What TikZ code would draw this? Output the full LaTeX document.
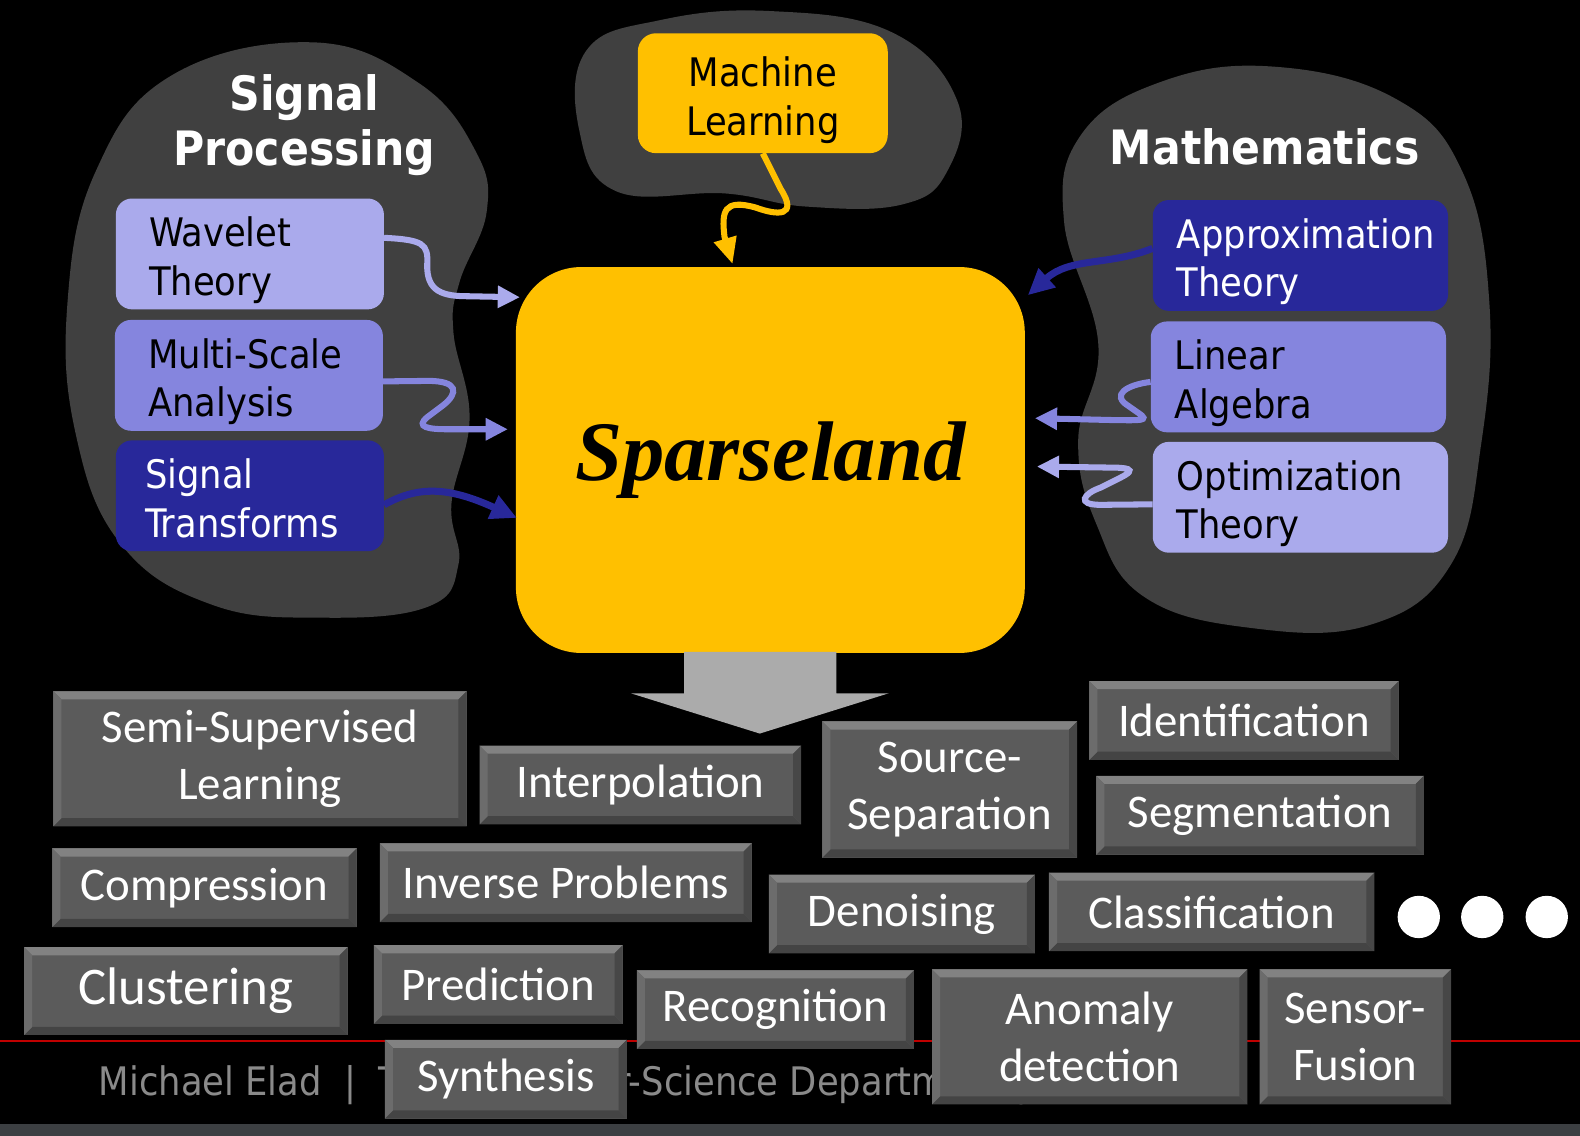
\documentclass[tikz,border=0pt]{standalone}
\usepackage{fontspec}
\usetikzlibrary{arrows.meta}
\newfontfamily\tahfont{DejaVu Sans Condensed}
\newfontfamily\calfont{Carlito}
\newfontfamily\sparsefont{Liberation Serif}
\definecolor{blob}{HTML}{404040}
\definecolor{yel}{HTML}{FFC000}
\definecolor{lavA}{HTML}{AAAAEC}
\definecolor{lavB}{HTML}{8585DE}
\definecolor{navy}{HTML}{28289A}
\definecolor{bvbase}{HTML}{5B5B5B}
\definecolor{bvtop}{HTML}{828282}
\definecolor{bvleft}{HTML}{6C6C6C}
\definecolor{bvright}{HTML}{474747}
\definecolor{bvbot}{HTML}{444444}
\definecolor{bigarrow}{HTML}{ABABAB}
\definecolor{footgray}{HTML}{8A8A8A}
\definecolor{band}{HTML}{3C3F42}
\definecolor{redline}{HTML}{C00000}
\tikzset{
  x=1pt, y=-1pt,
  topic/.style={rounded corners=16pt, inner xsep=0pt, inner ysep=0pt, align=left,
    text height=43pt, text depth=57pt,
    font=\tahfont\fontsize{39}{48}\selectfont},
  lefttopic/.style={topic, minimum width=266pt, minimum height=110pt, text width=200pt},
  righttopic/.style={topic, minimum width=293pt, minimum height=110pt, text width=245pt},
  header/.style={text=white, align=center, font=\tahfont\bfseries\fontsize{47}{55}\selectfont},
  arr/.style={line width=6pt, -{Triangle[length=22pt,width=21pt]}},
  bevel/.style={fill=bvbase, text=white, align=center, inner sep=0pt,
    font=\calfont\fontsize{46.5}{57}\selectfont,
    path picture={
      \coordinate (bnw) at (path picture bounding box.north west);
      \coordinate (bne) at (path picture bounding box.north east);
      \coordinate (bsw) at (path picture bounding box.south west);
      \coordinate (bse) at (path picture bounding box.south east);
      \fill[bvtop] (bnw) -- (bne) -- ([xshift=-8pt,yshift=-8pt]bne) -- ([xshift=8pt,yshift=-8pt]bnw) -- cycle;
      \fill[bvbot] (bsw) -- (bse) -- ([xshift=-8pt,yshift=8pt]bse) -- ([xshift=8pt,yshift=8pt]bsw) -- cycle;
      \fill[bvleft] (bnw) -- (bsw) -- ([xshift=8pt,yshift=8pt]bsw) -- ([xshift=8pt,yshift=-8pt]bnw) -- cycle;
      \fill[bvright] (bne) -- (bse) -- ([xshift=-8pt,yshift=8pt]bse) -- ([xshift=-8pt,yshift=-8pt]bne) -- cycle;
    }},
  dot/.style={circle, fill=white, minimum size=42pt, inner sep=0pt}
}
\begin{document}
\begin{tikzpicture}
\fill[black] (0,0) rectangle (1568,1127);
\useasboundingbox (0,0) rectangle (1568,1127);
\fill[band] (0,1115) rectangle (1568,1127);

% background clouds
\fill[blob] plot[smooth cycle, tension=0.7] coordinates {
  (310,42) (415,82) (472,150) (483,210) (456,280) (450,330) (466,415)
  (448,500) (455,560) (425,602) (320,613) (210,600) (120,540) (75,430)
  (67,300) (95,170) (170,75)};
\fill[blob] plot[smooth cycle, tension=0.7] coordinates {
  (765,11) (885,32) (950,100) (940,170) (895,203) (800,205) (720,192)
  (612,190) (575,130) (582,50) (655,20)};
\fill[blob] plot[smooth cycle, tension=0.7] coordinates {
  (1262,66) (1385,98) (1452,172) (1478,300) (1470,440) (1440,560)
  (1360,620) (1240,623) (1135,592) (1088,520) (1070,437) (1090,342)
  (1056,220) (1072,135) (1150,82)};

% headers
\node[header] (sphead) at (302,124) {Signal\\Processing};
\node[header] (mathead) at (1255,146) {Mathematics};

% central box
\node[fill=yel, rounded corners=65pt, minimum width=505pt, minimum height=383pt,
  font=\sparsefont\bfseries\itshape\fontsize{84}{90}\selectfont] (sp) at (764.5,456.5) {Sparseland};

% machine learning
\node[fill=yel, rounded corners=18pt, minimum width=248pt, minimum height=119pt, align=center,
  inner sep=0pt, text width=248pt, text height=43pt, text depth=56pt,
  font=\tahfont\fontsize{39}{48}\selectfont] (ml) at (757,92.5) {Machine\\Learning};

% left topics
\node[lefttopic, fill=lavA] (wav) at (248,252) {Wavelet\\Theory};
\node[lefttopic, fill=lavB] (msa) at (247,372.5) {Multi-Scale\\Analysis};
\node[lefttopic, fill=navy, text=white, text width=208pt] (sigt) at (248,492) {Signal\\Transforms};

% right topics
\node[righttopic, fill=navy, text=white] (apx) at (1290.5,253.5) {Approximation\\Theory};
\node[righttopic, fill=lavB] (lin) at (1288.5,374) {Linear\\Algebra};
\node[righttopic, fill=lavA] (opt) at (1290.5,493.5) {Optimization\\Theory};

% arrow tips on the central box
\coordinate (tw) at (516,295);
\coordinate (tm) at (504,426);
\coordinate (ts) at (513,514);
\coordinate (ta) at (1020,293);
\coordinate (tl) at (1027,415);
\coordinate (to) at (1029,463);
\coordinate (tml) at (727,262);

% connectors
\draw[arr, lavA] ([yshift=16pt]wav.east) .. controls (420,238) and (425,242) .. (424,262)
  .. controls (423,290) and (440,294) .. (465,294) -- (tw);
\draw[arr, lavB] ([yshift=-6pt]msa.east) -- (425,378) .. controls (455,378) and (455,390) .. (440,402)
  -- (424,414) .. controls (412,424) and (425,426) .. (445,426) -- (tm);
\draw[arr, navy, line width=7pt, -{Triangle[length=26pt,width=24pt]}] ([yshift=-9pt]sigt.east)
  .. controls (415,482) and (445,483) .. (ts);
\draw[arr, navy, line width=7pt, -{Triangle[length=26pt,width=24pt]}] ([yshift=7pt]apx.west)
  .. controls (1100,264) and (1062,255) .. (ta);
\draw[arr, lavB] ([yshift=-5pt]lin.west) .. controls (1118,382) and (1102,392) .. (1120,403)
  -- (1130,410) .. controls (1142,418) and (1130,417) .. (1110,417) -- (tl);
\draw[arr, lavA] ([yshift=-7pt]opt.west) -- (1092,501) .. controls (1068,501) and (1075,490) .. (1092,484)
  -- (1112,474) .. controls (1130,465) and (1118,464) .. (1100,464) -- (to);
\draw[yel, line width=6pt, -{Triangle[length=26pt,width=22pt]}] (ml.south) -- (775,188)
  .. controls (792,215) and (772,214) .. (750,206) .. controls (718,197) and (716,210) .. (719,235) -- (tml);

% big block arrow below the central box
\fill[bigarrow] (679,647) -- (830,647) -- (830,688) -- (882,688) -- (754,728) -- (626,688)
  -- (679,688) -- cycle;

% footer
\draw[redline, line width=2pt] (0,1033) -- (1568,1033);
\node[anchor=base west, inner sep=0pt, text=footgray, font=\tahfont\fontsize{39}{48}\selectfont]
  (foot) at (98,1087) {Michael Elad \ | \ The Computer-Science Department | \hspace{-41pt} The Technion};

% application boxes
\node[bevel, minimum width=410pt, minimum height=134pt] (ssl) at (258,753) {Semi-Supervised\\Learning};
\node[bevel, minimum width=319pt, minimum height=78pt] (interp) at (635.5,779) {Interpolation};
\node[bevel, minimum width=253pt, minimum height=135pt] (srcsep) at (942.5,783.5) {Source-\\Separation};
\node[bevel, minimum width=307pt, minimum height=78pt] (ident) at (1234.5,715) {Identification};
\node[bevel, minimum width=325pt, minimum height=78pt] (segm) at (1250.5,809) {Segmentation};
\node[bevel, minimum width=302pt, minimum height=78pt] (compr) at (203,881) {Compression};
\node[bevel, minimum width=369pt, minimum height=78pt] (invp) at (561.5,876) {Inverse Problems};
\node[bevel, minimum width=264pt, minimum height=78pt] (denoi) at (895,907) {Denoising};
\node[bevel, minimum width=323pt, minimum height=78pt] (classif) at (1202.5,905) {Classification};
\node[bevel, minimum width=321pt, minimum height=87pt, font=\calfont\fontsize{52.5}{60}\selectfont]
  (clust) at (184.5,983.5) {Clustering};
\node[bevel, minimum width=247pt, minimum height=78pt] (pred) at (494.5,977) {Prediction};
\node[bevel, minimum width=275pt, minimum height=78pt] (recog) at (769.5,1002) {Recognition};
\node[bevel, minimum width=313pt, minimum height=134pt] (anom) at (1081.5,1029) {Anomaly\\detection};
\node[bevel, minimum width=190pt, minimum height=134pt] (sensor) at (1345,1029) {Sensor-\\Fusion};
\node[bevel, minimum width=240pt, minimum height=78pt] (synth) at (502,1071) {Synthesis};

% ellipsis dots
\node[dot] (d1) at (1408,910) {};
\node[dot] (d2) at (1471,910) {};
\node[dot] (d3) at (1535,910) {};
\end{tikzpicture}
\end{document}
